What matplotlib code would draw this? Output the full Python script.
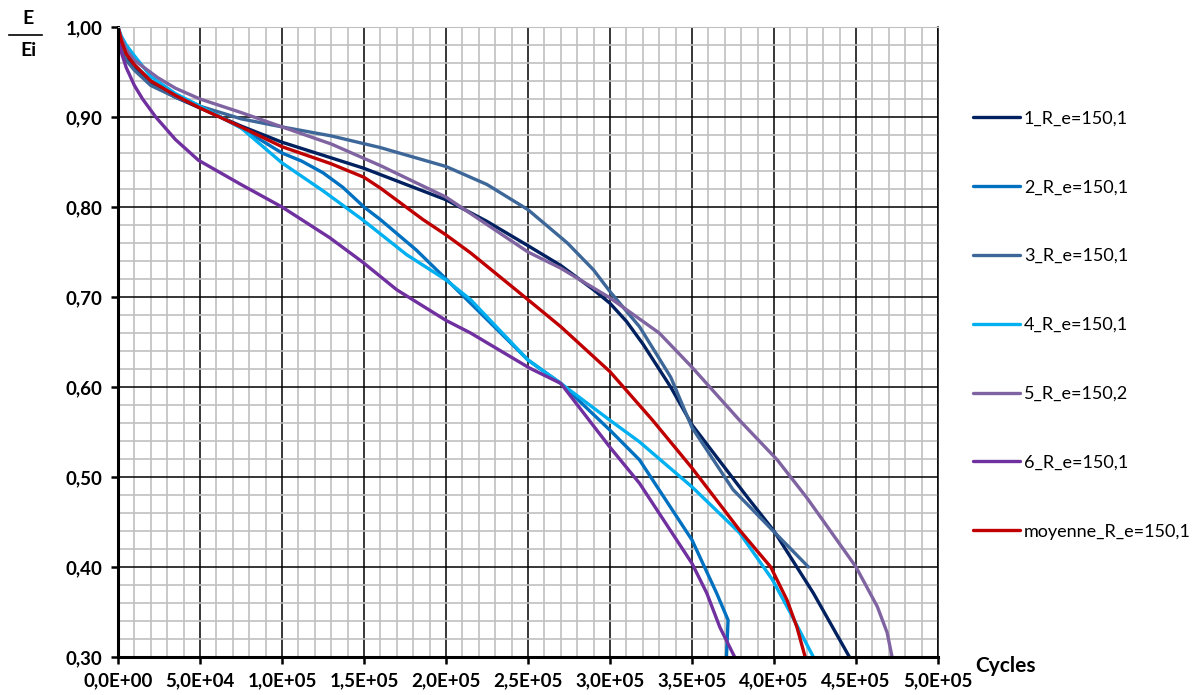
import matplotlib
matplotlib.use('Agg')
import matplotlib.pyplot as plt
from matplotlib.lines import Line2D
from matplotlib.ticker import MultipleLocator, FuncFormatter

# cycles / E/Ei
x1 = [0, 2e3, 5e3, 1e4, 2e4, 3.5e4, 5e4, 7.5e4, 1e5, 1.5e5, 2e5, 2.25e5, 2.5e5, 2.7e5, 2.9e5, 3.0e5,
      3.1e5, 3.2e5, 3.37e5, 3.5e5, 3.84e5, 4.0e5, 4.24e5, 4.46e5]
y1 = [1.0, 0.985, 0.968, 0.955, 0.937, 0.922, 0.91, 0.89, 0.872, 0.843, 0.808, 0.784, 0.757, 0.735, 0.708,
      0.693, 0.673, 0.648, 0.60, 0.558, 0.477, 0.44, 0.371, 0.30]

x2 = [0, 2e3, 5e3, 1e4, 2e4, 3.5e4, 5e4, 7.5e4, 1e5, 1.12e5, 1.25e5, 1.37e5, 1.5e5, 1.6e5, 1.82e5,
      2.0e5, 2.5e5, 2.7e5, 3.0e5, 3.18e5, 3.5e5, 3.65e5, 3.72e5, 3.71e5]
y2 = [1.0, 0.985, 0.972, 0.958, 0.94, 0.925, 0.912, 0.888, 0.86, 0.851, 0.838, 0.822, 0.80, 0.786, 0.752,
      0.72, 0.63, 0.604, 0.552, 0.519, 0.43, 0.371, 0.341, 0.30]

x3 = [0, 2e3, 5e3, 1e4, 2e4, 3.5e4, 5e4, 7.5e4, 1e5, 1.3e5, 1.6e5, 2.0e5, 2.25e5, 2.5e5, 2.74e5,
      2.9e5, 3.0e5, 3.18e5, 3.37e5, 3.5e5, 3.75e5, 3.99e5, 4.21e5]
y3 = [1.0, 0.98, 0.963, 0.952, 0.935, 0.922, 0.912, 0.898, 0.889, 0.879, 0.866, 0.845, 0.825, 0.797, 0.76,
      0.73, 0.706, 0.667, 0.611, 0.555, 0.486, 0.441, 0.40]

x4 = [0, 2e3, 5e3, 1e4, 2e4, 3.5e4, 5e4, 7.5e4, 1e5, 1.25e5, 1.49e5, 1.76e5, 2.0e5, 2.15e5, 2.5e5,
      2.7e5, 3.0e5, 3.18e5, 3.5e5, 3.79e5, 3.99e5, 4.1e5, 4.24e5]
y4 = [1.0, 0.99, 0.98, 0.968, 0.945, 0.926, 0.912, 0.888, 0.849, 0.818, 0.786, 0.747, 0.719, 0.697, 0.63,
      0.604, 0.563, 0.539, 0.489, 0.438, 0.386, 0.349, 0.30]

x5 = [0, 2e3, 5e3, 1e4, 2.4e4, 3.5e4, 5e4, 7.5e4, 1e5, 1.3e5, 1.6e5, 2.0e5, 2.5e5, 2.7e5, 3.0e5,
      3.3e5, 3.5e5, 3.79e5, 4.02e5, 4.2e5, 4.5e5, 4.63e5, 4.69e5, 4.72e5]
y5 = [1.0, 0.988, 0.975, 0.963, 0.944, 0.932, 0.92, 0.905, 0.889, 0.87, 0.846, 0.811, 0.75, 0.732, 0.699,
      0.66, 0.622, 0.563, 0.519, 0.477, 0.40, 0.356, 0.327, 0.30]

x6 = [0, 2e3, 5e3, 1e4, 1.5e4, 2.3e4, 3.5e4, 4.9e4, 7.5e4, 1e5, 1.29e5, 1.49e5, 1.7e5, 2.0e5, 2.15e5,
      2.51e5, 2.7e5, 3.0e5, 3.18e5, 3.5e5, 3.59e5, 3.67e5, 3.76e5]
y6 = [1.0, 0.972, 0.955, 0.935, 0.92, 0.90, 0.875, 0.852, 0.825, 0.80, 0.766, 0.739, 0.708, 0.674, 0.66,
      0.621, 0.604, 0.533, 0.493, 0.404, 0.371, 0.333, 0.30]

xm = [0, 2e3, 5e3, 1e4, 2e4, 3.5e4, 5e4, 7.5e4, 1e5, 1.3e5, 1.5e5, 1.6e5, 1.86e5, 2.0e5, 2.15e5,
      2.5e5, 2.7e5, 3.0e5, 3.26e5, 3.5e5, 3.79e5, 3.98e5, 4.08e5, 4.14e5, 4.19e5]
ym = [1.0, 0.985, 0.97, 0.958, 0.94, 0.924, 0.91, 0.889, 0.867, 0.848, 0.833, 0.821, 0.786, 0.769, 0.749,
      0.697, 0.667, 0.617, 0.563, 0.51, 0.441, 0.40, 0.363, 0.333, 0.30]

labels = ['1_R_e=150,1', '2_R_e=150,1', '3_R_e=150,1', '4_R_e=150,1',
          '5_R_e=150,2', '6_R_e=150,1', 'moyenne_R_e=150,1']
colors = ['#002060', '#0070C0', '#3E6799', '#00B0F0', '#8064A2', '#7030A0', '#C00000']
series = [(x1, y1), (x2, y2), (x3, y3), (x4, y4), (x5, y5), (x6, y6), (xm, ym)]

plt.rcParams['font.family'] = ['Lato', 'DejaVu Sans']

fig = plt.figure(figsize=(12, 6.95), dpi=100)
ax = fig.add_axes([118 / 1200, 1 - 657 / 695, 820 / 1200, 630 / 695])

for (xs, ys), lab, c in zip(series, labels, colors):
    ax.plot(xs, ys, color=c, lw=2.4, label=lab, solid_capstyle='round', solid_joinstyle='round')

ax.set_xlim(0, 5e5)
ax.set_ylim(0.30, 1.00)
ax.xaxis.set_major_locator(MultipleLocator(5e4))
ax.xaxis.set_minor_locator(MultipleLocator(1e4))
ax.yaxis.set_major_locator(MultipleLocator(0.1))
ax.yaxis.set_minor_locator(MultipleLocator(0.02))
ax.grid(which='minor', color='#C0C0C0', lw=1.2)
ax.grid(which='major', color='black', lw=1.1)
ax.set_axisbelow(True)


def fmt_x(v, pos):
    m, e = f'{v:.1E}'.split('E')
    return m.replace('.', ',') + 'E' + e[0] + e[1:].zfill(2)


ax.xaxis.set_major_formatter(FuncFormatter(fmt_x))
ax.yaxis.set_major_formatter(FuncFormatter(lambda v, p: f'{v:.2f}'.replace('.', ',')))
ax.tick_params(which='major', direction='out', length=5, width=1.8, labelsize=13.5, pad=6)
ax.tick_params(which='minor', length=0)
for t in ax.get_xticklabels() + ax.get_yticklabels():
    t.set_fontweight('bold')

ax.spines['left'].set_linewidth(2.2)
ax.spines['bottom'].set_linewidth(2.2)
ax.spines['top'].set_color('#C0C0C0')
ax.spines['right'].set_linewidth(1.1)

# E / Ei label
fig.text(28 / 1200, 1 - 19 / 695, 'E', ha='center', va='center', fontsize=14, fontweight='bold')
fig.text(28 / 1200, 1 - 50 / 695, 'Ei', ha='center', va='center', fontsize=14, fontweight='bold')
fig.add_artist(Line2D([9 / 1200, 42 / 1200], [1 - 35 / 695, 1 - 35 / 695], color='black', lw=1.2))

fig.text(1005 / 1200, 1 - 666 / 695, 'Cycles', ha='center', va='center', fontsize=15, fontweight='bold')

ax.legend(loc='upper left', bbox_to_anchor=(957 / 1200, 1 - 94 / 695), bbox_transform=fig.transFigure,
          frameon=False, fontsize=13, handlelength=2.6, handletextpad=0.2, labelspacing=2.93)

fig.savefig('out.png', dpi=100)
